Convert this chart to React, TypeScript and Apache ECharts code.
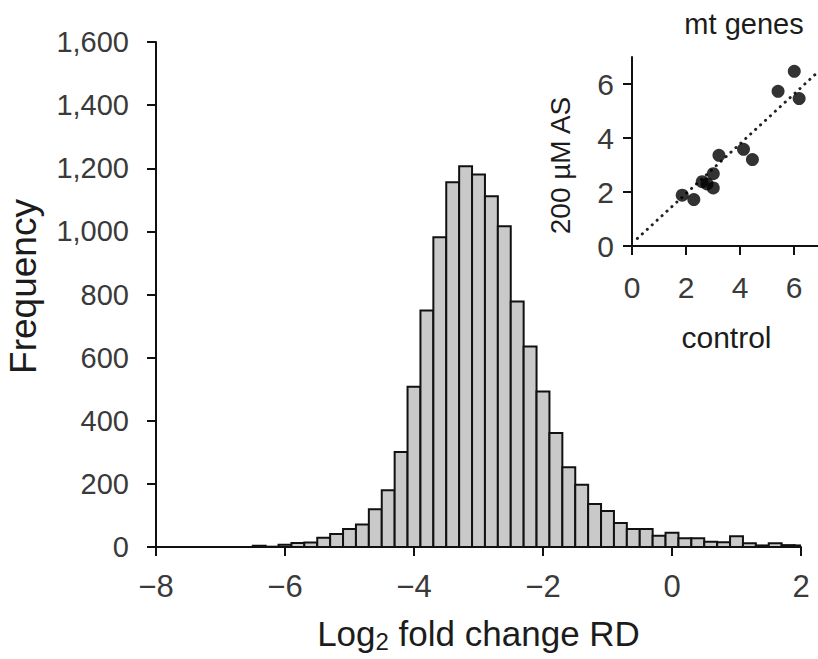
import React, { useEffect, useRef } from "react";
import * as echarts from "echarts";

// Histogram bins (centre of each 0.2-wide bin) and their frequencies
const binCenters = [
  -8.0, -7.8, -7.6, -7.4, -7.2, -7.0, -6.8, -6.6, -6.4, -6.2,
  -6.0, -5.8, -5.6, -5.4, -5.2, -5.0, -4.8, -4.6, -4.4, -4.2,
  -4.0, -3.8, -3.6, -3.4, -3.2, -3.0, -2.8, -2.6, -2.4, -2.2,
  -2.0, -1.8, -1.6, -1.4, -1.2, -1.0, -0.8, -0.6, -0.4, -0.2,
  0.0, 0.2, 0.4, 0.6, 0.8, 1.0, 1.2, 1.4, 1.6, 1.8, 2.0,
];
const frequencies = [
  0, 0, 0, 0, 0, 0, 0, 0, 4, 1,
  7, 13, 14, 29, 41, 57, 71, 120, 180, 301,
  508, 749, 981, 1156, 1206, 1180, 1111, 1016, 778, 635,
  493, 361, 253, 197, 136, 114, 76, 57, 57, 36,
  45, 28, 28, 17, 15, 34, 12, 5, 12, 6, 5,
];
const binWidth = 0.2;

// Inset: mt genes, control vs 200 µM AS
const insetControl = [1.86, 2.29, 2.6, 2.78, 3.01, 3.01, 3.22, 4.13, 4.46, 5.41, 6.01, 6.19];
const insetAS = [1.88, 1.72, 2.38, 2.3, 2.68, 2.15, 3.36, 3.58, 3.2, 5.73, 6.47, 5.46];
const fitX = [0.2, 7.0];
const fitY = [0.28, 6.55];

const insetTicks = [0, 2, 4, 6];

const FONT = "'Liberation Sans', Arial, sans-serif";
const TICK_COLOR = "#3a3a3a";
const TITLE_COLOR = "#1c1c1c";

const fmtMinus = (v: number) => (v < 0 ? "\u2212" + Math.abs(v) : String(v));

export default function App() {
  const ref = useRef<HTMLDivElement>(null);

  useEffect(() => {
    if (!ref.current) return;
    const chart = echarts.init(ref.current, undefined, { renderer: "svg" });

    const histData = binCenters.map((c, i) => [c, frequencies[i]]);
    const scatterData = insetControl.map((c, i) => [c, insetAS[i]]);
    const lineData = fitX.map((x, i) => [x, fitY[i]]);

    const axisLineStyle = { color: "#111", width: 2 };

    chart.setOption({
      animation: false,
      backgroundColor: "#ffffff",
      title: {
        text: "mt genes",
        left: 739,
        top: 4,
        textAlign: "center",
        textStyle: { fontFamily: FONT, fontSize: 29, fontWeight: "normal", color: TITLE_COLOR },
      },
      grid: [
        { left: 156, top: 42, width: 645, height: 505, outerBoundsMode: "none", containLabel: false },
        { left: 632, top: 57, width: 189, height: 189, outerBoundsMode: "none", containLabel: false },
      ],
      xAxis: [
        {
          type: "value",
          gridIndex: 0,
          min: -8,
          max: 2,
          interval: 2,
          splitLine: { show: false },
          axisLine: { onZero: false, lineStyle: axisLineStyle },
          axisTick: { length: 9, lineStyle: axisLineStyle },
          axisLabel: {
            formatter: fmtMinus,
            fontFamily: FONT,
            fontSize: 31,
            color: TICK_COLOR,
            margin: 24,
          },
          name: "{a|Log}{s|2}{a| fold change RD}",
          nameLocation: "middle",
          nameGap: 66,
          nameTextStyle: {
            rich: {
              a: { fontFamily: FONT, fontSize: 35, color: TITLE_COLOR, lineHeight: 40 },
              s: { fontFamily: FONT, fontSize: 24, color: TITLE_COLOR, lineHeight: 24, verticalAlign: "bottom" },
            },
          },
        },
        {
          type: "value",
          gridIndex: 1,
          min: 0,
          max: 7,
          splitLine: { show: false },
          axisLine: { onZero: false, lineStyle: axisLineStyle },
          axisTick: { length: 9, lineStyle: axisLineStyle, customValues: insetTicks },
          axisLabel: {
            customValues: insetTicks,
            fontFamily: FONT,
            fontSize: 30,
            color: TICK_COLOR,
            margin: 26,
          },
          name: "control",
          nameLocation: "middle",
          nameGap: 76,
          nameTextStyle: { fontFamily: FONT, fontSize: 30, color: TITLE_COLOR },
        },
      ],
      yAxis: [
        {
          type: "value",
          gridIndex: 0,
          min: 0,
          max: 1600,
          interval: 200,
          splitLine: { show: false },
          axisLine: { show: true, onZero: false, lineStyle: axisLineStyle },
          axisTick: { show: true, length: 9, lineStyle: axisLineStyle },
          axisLabel: {
            formatter: (v: number) => v.toLocaleString("en-US"),
            fontFamily: FONT,
            fontSize: 29,
            color: TICK_COLOR,
            margin: 27,
          },
          name: "Frequency",
          nameLocation: "middle",
          nameGap: 114,
          nameTextStyle: { fontFamily: FONT, fontSize: 37, color: TITLE_COLOR, padding: [0, 0, 0, 16] },
        },
        {
          type: "value",
          gridIndex: 1,
          min: 0,
          max: 7,
          splitLine: { show: false },
          axisLine: { show: true, onZero: false, lineStyle: axisLineStyle },
          axisTick: { show: true, length: 9, lineStyle: axisLineStyle, customValues: insetTicks },
          axisLabel: {
            customValues: insetTicks,
            fontFamily: FONT,
            fontSize: 30,
            color: TICK_COLOR,
            margin: 18,
          },
          name: "200 \u00b5M AS",
          nameLocation: "middle",
          nameGap: 58,
          nameTextStyle: { fontFamily: FONT, fontSize: 28, color: TITLE_COLOR, padding: [0, 28, 0, 0] },
        },
      ],
      series: [
        {
          type: "custom",
          xAxisIndex: 0,
          yAxisIndex: 0,
          clip: true,
          data: histData,
          encode: { x: 0, y: 1 },
          renderItem: (params: any, api: any) => {
            const c = api.value(0);
            const v = api.value(1);
            const p0 = api.coord([c - binWidth / 2, v]);
            const p1 = api.coord([c + binWidth / 2, 0]);
            return {
              type: "rect",
              shape: { x: p0[0], y: p0[1], width: p1[0] - p0[0], height: p1[1] - p0[1] },
              style: { fill: "#c9c9c9", stroke: "#111", lineWidth: 2 },
            };
          },
          z: 1,
        },
        {
          type: "line",
          xAxisIndex: 1,
          yAxisIndex: 1,
          data: lineData,
          symbol: "none",
          lineStyle: { color: "#222", width: 3, type: [0.1, 6.6], cap: "round" },
          z: 2,
        },
        {
          type: "scatter",
          xAxisIndex: 1,
          yAxisIndex: 1,
          data: scatterData,
          symbol: "circle",
          symbolSize: 13,
          itemStyle: { color: "#000" },
          z: 3,
        },
      ],
    });

    return () => chart.dispose();
  }, []);

  return (
    <div
      ref={ref}
      style={{ position: "fixed", left: 0, top: 0, width: 818, height: 659, background: "#fff" }}
    />
  );
}
